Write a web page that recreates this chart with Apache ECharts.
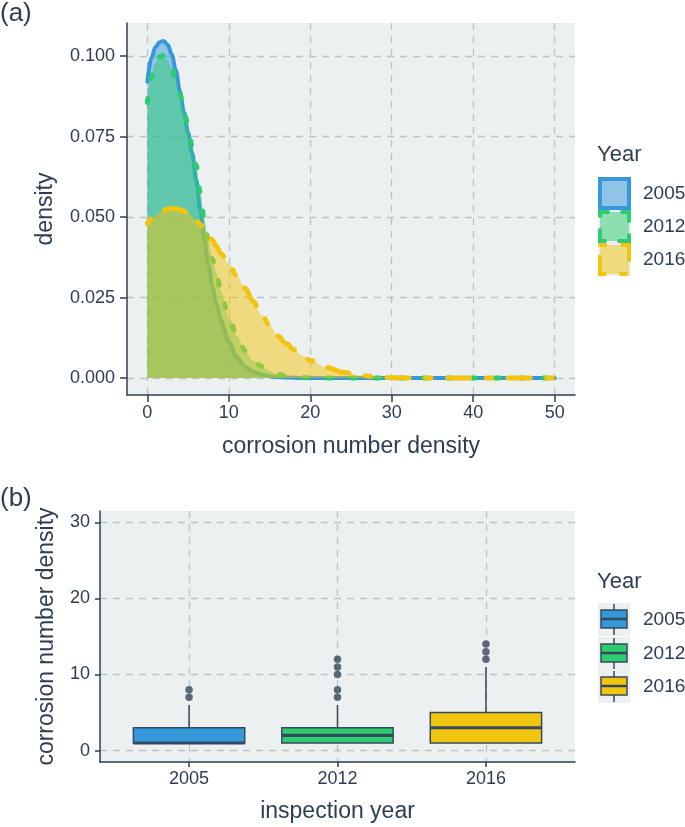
<!DOCTYPE html>
<html><head><meta charset="utf-8">
<script src="https://cdn.jsdelivr.net/npm/echarts@6/dist/echarts.min.js"></script>
<style>html,body{margin:0;padding:0;background:#fff}#chart{width:685px;height:827px}</style>
</head><body><div id="chart"></div>
<script>
// ---------- data ----------
const densityX = [0,0.5,1,1.5,2,2.5,3,3.5,4,4.5,5,5.5,6,6.5,7,7.5,8,8.5,9,10,11,12,13,14,15,16,17,18,19,20,22,24,26,28,30,35,40,45,50];
const density2005 = [0.0920,0.0995,0.1028,0.1043,0.1047,0.1035,0.1005,0.0955,0.0890,0.0825,0.0762,0.0698,0.0616,0.0522,0.0430,0.0352,0.0282,0.0228,0.0180,0.0112,0.0064,0.0036,0.0020,0.0011,0.0006,0.0003,0.0002,0.0001,0,0,0,0,0,0,0,0,0,0,0];
const density2012 = [0.0856,0.0935,0.0980,0.0998,0.1002,0.0988,0.0963,0.0924,0.0880,0.0833,0.0780,0.0720,0.0660,0.0575,0.0490,0.0422,0.0368,0.0325,0.0272,0.0190,0.0131,0.0085,0.0054,0.0036,0.0023,0.0012,0.0006,0.0003,0.0001,0.0001,0,0,0,0,0,0,0,0,0];
const density2016 = [0.0480,0.0494,0.0505,0.0514,0.0521,0.0525,0.0527,0.0526,0.0523,0.0518,0.0512,0.0502,0.0490,0.0478,0.0464,0.0447,0.0428,0.0408,0.0387,0.0356,0.0316,0.0279,0.0238,0.0196,0.0165,0.0131,0.0108,0.0088,0.0070,0.0055,0.0033,0.0018,0.0009,0.0004,0.0001,0,0,0,0];
const densityTicksX = [0,10,20,30,40,50];
const densityTicksY = [0,0.025,0.05,0.075,0.1];

const yearCategories = ['2005','2012','2016'];
const boxMin = [1,1,1];
const boxQ1 = [1,1,1];
const boxMedian = [1,2,3];
const boxQ3 = [3,3,5];
const boxMax = [6,6,11];
const boxOutliers = [[7,8],[7,8,10,11,12],[12,13,14]];
const boxTicksY = [0,10,20,30];
const boxTicksX = [1,2,3];

// ---------- style ----------
const TEXT = '#2C3E50';
const AXIS = '#2C3E50';
const GRIDC = '#BDC3C7';
const PANEL = '#ECF0F1';
const FONT = '"Liberation Sans", Arial, sans-serif';
const COLORS = ['#3498DB','#2ECC71','#F1C40F'];
const FILLS = ['rgba(52,152,219,0.5)','rgba(46,204,113,0.5)','rgba(241,196,15,0.5)'];
const BOXLINE = '#34495E';

const chart = echarts.init(document.getElementById('chart'), null, {renderer:'canvas'});

function axisCommon(ticks, fmt, margin, tickLen){
  return {
    axisLine:{show:true,onZero:false,lineStyle:{color:AXIS,width:1.5}},
    axisTick:{show:true,length:tickLen,customValues:ticks,lineStyle:{color:AXIS,width:1.5}},
    axisLabel:{customValues:ticks,margin:margin,fontSize:18,color:TEXT,fontFamily:FONT,formatter:fmt},
    splitLine:{show:true,lineStyle:{color:GRIDC,type:[7,6],width:1.3}},
    nameLocation:'middle',
    nameTextStyle:{fontSize:23,color:TEXT,fontFamily:FONT}
  };
}

const lineStyles = [
  {width:4, color:COLORS[0], type:'solid', cap:'round'},
  {width:5, color:COLORS[1], type:[4,20], cap:'round'},
  {width:5, color:COLORS[2], type:[5.5,16.5,22,16.5], cap:'round'}
];
const densitySets = [density2005, density2012, density2016];

const densitySeries = densitySets.map((arr, k) => ({
  type:'line', xAxisIndex:0, yAxisIndex:0,
  data: densityX.map((x,i)=>[x, arr[i]]),
  showSymbol:false, symbol:'none', smooth:0.35, smoothMonotone:'x',
  lineStyle: lineStyles[k],
  areaStyle:{color:FILLS[k], origin:'auto', opacity:1},
  z: 2 + k
}));

const boxData = yearCategories.map((c,i)=>[i+1, boxMin[i], boxQ1[i], boxMedian[i], boxQ3[i], boxMax[i]]);
const outlierData = [];
boxOutliers.forEach((arr,i)=>arr.forEach(v=>outlierData.push([i+1, v])));

const boxSeries = {
  type:'custom', xAxisIndex:1, yAxisIndex:1,
  data: boxData,
  encode:{x:0, y:[1,2,3,4,5]},
  renderItem: function(params, api){
    const idx = params.dataIndex;
    const x = api.value(0);
    const pMin = api.coord([x, api.value(1)]);
    const pQ1 = api.coord([x, api.value(2)]);
    const pMed = api.coord([x, api.value(3)]);
    const pQ3 = api.coord([x, api.value(4)]);
    const pMax = api.coord([x, api.value(5)]);
    const w = api.size([0.75, 0])[0];
    const cx = pQ1[0];
    return {
      type:'group',
      children:[
        {type:'line', shape:{x1:cx,y1:pQ3[1],x2:cx,y2:pMax[1]}, style:{stroke:BOXLINE,lineWidth:1.5}},
        {type:'line', shape:{x1:cx,y1:pQ1[1],x2:cx,y2:pMin[1]}, style:{stroke:BOXLINE,lineWidth:1.5}},
        {type:'rect', shape:{x:cx-w/2,y:pQ3[1],width:w,height:pQ1[1]-pQ3[1]}, style:{fill:COLORS[idx],stroke:BOXLINE,lineWidth:1.5}},
        {type:'line', shape:{x1:cx-w/2,y1:pMed[1],x2:cx+w/2,y2:pMed[1]}, style:{stroke:BOXLINE,lineWidth:3.2}}
      ]
    };
  },
  z:3
};

const outlierSeries = {
  type:'scatter', xAxisIndex:1, yAxisIndex:1,
  data: outlierData, symbol:'circle', symbolSize:7.5,
  itemStyle:{color:BOXLINE}, z:4
};

// ---------- legends (graphic) ----------
const g = [];
g.push({type:'text', style:{text:'(a)', x:0, y:14, font:'26px '+FONT, fill:TEXT, verticalAlign:'middle', align:'left'}});
g.push({type:'text', style:{text:'(b)', x:0, y:499, font:'26px '+FONT, fill:TEXT, verticalAlign:'middle', align:'left'}});

g.push({type:'text', style:{text:'Year', x:597, y:155, font:'22px '+FONT, fill:TEXT, verticalAlign:'middle', align:'left'}});
const keyTops = [177, 210, 243];
const keyDash = [null, [8,14,16,14,16,14,16,14,8], [5.5,16.5,22,16.5]];
yearCategories.forEach((c,i)=>{
  const t = keyTops[i];
  g.push({type:'rect', shape:{x:598,y:t,width:33,height:33}, style:{fill:PANEL}});
  g.push({type:'rect', shape:{x:600,y:t+2,width:29,height:29}, style:{fill:FILLS[i], stroke:COLORS[i], lineWidth:4, lineDash:keyDash[i]||null, lineCap:'round'}});
  g.push({type:'text', style:{text:c, x:643, y:t+16.5, font:'19px '+FONT, fill:TEXT, verticalAlign:'middle', align:'left'}});
});

g.push({type:'text', style:{text:'Year', x:597, y:582, font:'22px '+FONT, fill:TEXT, verticalAlign:'middle', align:'left'}});
const bkeyTops = [603, 637, 670];
yearCategories.forEach((c,i)=>{
  const t = bkeyTops[i];
  g.push({type:'rect', shape:{x:598,y:t,width:32,height:33}, style:{fill:PANEL}});
  g.push({type:'line', shape:{x1:614,y1:t+1,x2:614,y2:t+32}, style:{stroke:BOXLINE,lineWidth:1.5}});
  g.push({type:'rect', shape:{x:601,y:t+7,width:26,height:18}, style:{fill:COLORS[i],stroke:BOXLINE,lineWidth:1.5}});
  g.push({type:'line', shape:{x1:601,y1:t+16,x2:627,y2:t+16}, style:{stroke:BOXLINE,lineWidth:2.5}});
  g.push({type:'text', style:{text:c, x:643, y:t+17, font:'19px '+FONT, fill:TEXT, verticalAlign:'middle', align:'left'}});
});

const option = {
  backgroundColor:'#ffffff',
  animation:false,
  textStyle:{fontFamily:FONT},
  grid:[
    {left:127, top:23, width:448, height:372, show:true, backgroundColor:PANEL, borderWidth:0, containLabel:false},
    {left:100, top:511, width:475, height:251, show:true, backgroundColor:PANEL, borderWidth:0, containLabel:false}
  ],
  xAxis:[
    Object.assign(axisCommon(densityTicksX, v=>String(v), 9, 7), {gridIndex:0, type:'value', min:-2.5, max:52.5, position:'bottom', name:'corrosion number density', nameGap:40}),
    Object.assign(axisCommon(boxTicksX, v=>yearCategories[Math.round(v)-1] || '', 8, 5), {gridIndex:1, type:'value', min:0.4, max:3.6, position:'bottom', name:'inspection year', nameGap:38})
  ],
  yAxis:[
    Object.assign(axisCommon(densityTicksY, v=>Number(v).toFixed(3), 12, 7), {gridIndex:0, type:'value', min:-0.00525, max:0.11025, position:'left', name:'density', nameGap:70}),
    Object.assign(axisCommon(boxTicksY, v=>String(v), 10, 5), {gridIndex:1, type:'value', min:-1.5, max:31.5, position:'left', name:'corrosion number density', nameGap:42})
  ],
  series:[...densitySeries, boxSeries, outlierSeries],
  graphic:g
};
chart.setOption(option);
</script>
</body></html>
